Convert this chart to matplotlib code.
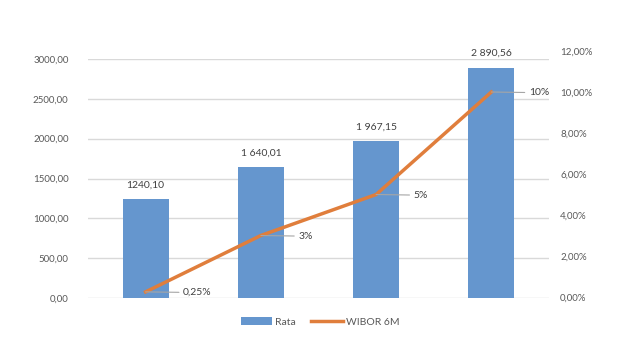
import matplotlib
matplotlib.use('Agg')
import matplotlib.pyplot as plt
import numpy as np

plt.rcParams['font.family'] = ['Lato', 'DejaVu Sans']

# data
categories = ['2021', '2022', '2023', '2024']
rata = [1240.10, 1640.01, 1967.15, 2890.56]
rata_labels = ['1240,10', '1 640,01', '1 967,15', '2 890,56']
wibor = [0.25, 3.0, 5.0, 10.0]
wibor_labels = ['0,25%', '3%', '5%', '10%']

left_ticks = np.arange(0, 3001, 500)
right_ticks = np.arange(0, 12.01, 2)

BLUE = '#6596CE'
ORANGE = '#E07E3C'
GRID = '#D9D9D9'
TXT = '#595959'

fig = plt.figure(figsize=(6.4, 3.5), dpi=100)
ax = fig.add_axes([88 / 640, 1 - 298 / 350, 461 / 640, 239 / 350])
# percent axis runs a little taller than the amount axis
ax2 = fig.add_axes([88 / 640, 1 - 297 / 350, 461 / 640, 246 / 350])
ax2.patch.set_visible(False)

x = np.arange(len(categories))
ax.bar(x, rata, width=0.4, color=BLUE, zorder=2, label='Rata')
ax.set_xlim(-0.5, len(categories) - 0.5)
ax.set_ylim(0, 3000)
ax.set_yticks(left_ticks)
ax.set_yticklabels([f'{v},00' for v in left_ticks])
ax.set_xticks([])
ax.yaxis.grid(True, color=GRID, lw=1)
ax.set_axisbelow(True)
for s in ax.spines.values():
    s.set_visible(False)
for s in ax2.spines.values():
    s.set_visible(False)
ax.tick_params(axis='y', length=0, labelsize=7, labelcolor=TXT, pad=14)

for xi, v, lab in zip(x, rata, rata_labels):
    ax.annotate(lab, (xi, v), xytext=(0, 7), textcoords='offset points',
                ha='center', va='bottom', fontsize=7.5, color='#404040')

ax2.plot(x, wibor, color=ORANGE, lw=2.5, zorder=3, label='WIBOR 6M')
ax2.set_xlim(-0.5, len(categories) - 0.5)
ax2.set_xticks([])
ax2.set_ylim(0, 12)
ax2.yaxis.tick_right()
ax2.set_yticks(right_ticks)
ax2.set_yticklabels([f'{v:.2f}'.replace('.', ',') + '%' for v in right_ticks])
ax2.tick_params(axis='y', length=0, labelsize=7, labelcolor=TXT, pad=8)

for xi, v, lab in zip(x, wibor, wibor_labels):
    ax2.annotate(lab, (xi, v), xytext=(27, -0.5), textcoords='offset points',
                 ha='left', va='center', fontsize=7.5, color='#404040',
                 arrowprops=dict(arrowstyle='-', color='#A6A6A6', lw=0.8,
                                 shrinkA=1, shrinkB=0))

h1, l1 = ax.get_legend_handles_labels()
h2, l2 = ax2.get_legend_handles_labels()
fig.legend(h1 + h2, l1 + l2, loc='center', bbox_to_anchor=(0.5, 1 - 322 / 350),
           ncol=2, frameon=False, fontsize=7.5, labelcolor=TXT,
           handlelength=3, columnspacing=1.5, handletextpad=0.3)

fig.savefig('out.png', dpi=100)
